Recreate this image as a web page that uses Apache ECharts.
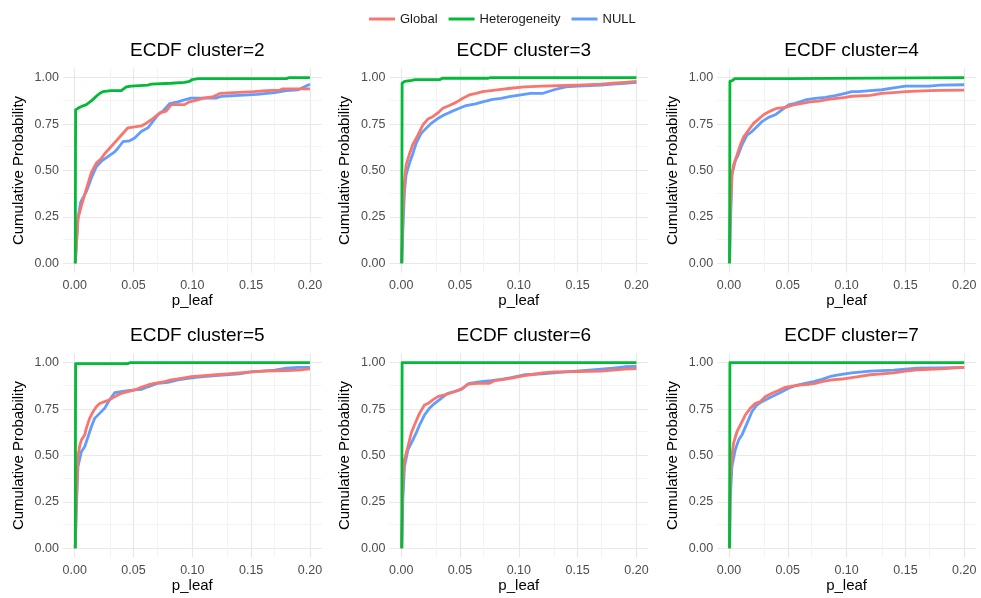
<!DOCTYPE html>
<html><head><meta charset="utf-8">
<script src="https://cdn.jsdelivr.net/npm/echarts@6/dist/echarts.min.js"></script>
<style>html,body{margin:0;padding:0;background:#fff}#c{width:981px;height:598px}</style>
</head><body><div id="c"></div>
<script>
// ---- data (p_leaf, cumulative probability) ----
const c2_global = [[0.0005,0],[0.0028,0.24],[0.0057,0.31],[0.0099,0.40],[0.0142,0.49],[0.0184,0.54],[0.0227,0.565],[0.0255,0.59],[0.0297,0.62],[0.034,0.65],[0.0396,0.69],[0.0453,0.73],[0.051,0.735],[0.0566,0.74],[0.0609,0.755],[0.0665,0.78],[0.0722,0.81],[0.0778,0.82],[0.082,0.855],[0.0934,0.855],[0.0976,0.87],[0.1047,0.88],[0.109,0.89],[0.118,0.898],[0.1235,0.915],[0.135,0.92],[0.152,0.925],[0.163,0.93],[0.1745,0.933],[0.177,0.94],[0.2,0.94]];
const c2_het = [[0.0005,0],[0.0008,0.826],[0.0028,0.835],[0.0057,0.845],[0.0099,0.855],[0.0142,0.875],[0.0184,0.9],[0.0212,0.915],[0.024,0.925],[0.0311,0.93],[0.0396,0.93],[0.0439,0.95],[0.0481,0.955],[0.0623,0.96],[0.0651,0.965],[0.082,0.97],[0.0934,0.975],[0.0976,0.98],[0.1,0.99],[0.105,0.995],[0.18,0.995],[0.182,1.0],[0.2,1.0]];
const c2_null = [[0.0005,0],[0.0028,0.24],[0.0051,0.33],[0.0099,0.386],[0.0142,0.46],[0.0184,0.52],[0.0227,0.55],[0.0283,0.575],[0.034,0.6],[0.0368,0.62],[0.041,0.655],[0.0467,0.66],[0.051,0.675],[0.0566,0.71],[0.0623,0.73],[0.0665,0.765],[0.0708,0.8],[0.075,0.82],[0.0807,0.86],[0.0877,0.87],[0.0934,0.88],[0.099,0.89],[0.12,0.89],[0.125,0.9],[0.14,0.905],[0.155,0.91],[0.17,0.92],[0.18,0.93],[0.19,0.935],[0.195,0.95],[0.2,0.965]];

const c3_global = [[0.0005,0],[0.0014,0.26],[0.0028,0.44],[0.0042,0.53],[0.0071,0.59],[0.0099,0.64],[0.0142,0.69],[0.0184,0.745],[0.0227,0.777],[0.0269,0.79],[0.0311,0.81],[0.0354,0.835],[0.041,0.85],[0.0467,0.867],[0.0524,0.889],[0.058,0.907],[0.0637,0.915],[0.0693,0.925],[0.0764,0.93],[0.0849,0.937],[0.0934,0.943],[0.1047,0.95],[0.12,0.955],[0.14,0.958],[0.15,0.96],[0.17,0.965],[0.18,0.97],[0.19,0.975],[0.2,0.98]];
const c3_het = [[0.0005,0],[0.0008,0.97],[0.003,0.98],[0.009,0.985],[0.012,0.99],[0.033,0.99],[0.035,0.997],[0.074,0.997],[0.076,1.0],[0.2,1.0]];
const c3_null = [[0.0005,0],[0.0014,0.17],[0.0028,0.386],[0.0042,0.476],[0.0071,0.54],[0.0099,0.59],[0.0127,0.646],[0.017,0.70],[0.0212,0.727],[0.0255,0.754],[0.0311,0.78],[0.0368,0.80],[0.0425,0.817],[0.0495,0.835],[0.0552,0.85],[0.0623,0.858],[0.0693,0.87],[0.0778,0.883],[0.0849,0.889],[0.092,0.898],[0.099,0.905],[0.11,0.915],[0.12,0.915],[0.13,0.935],[0.14,0.95],[0.15,0.955],[0.16,0.958],[0.17,0.96],[0.18,0.965],[0.19,0.97],[0.2,0.975]];

const c4_global = [[0.0005,0],[0.0011,0.26],[0.0025,0.476],[0.0039,0.53],[0.0068,0.583],[0.0096,0.637],[0.0124,0.68],[0.0167,0.718],[0.0209,0.754],[0.0252,0.777],[0.0294,0.80],[0.0351,0.82],[0.0407,0.835],[0.0478,0.84],[0.0549,0.853],[0.062,0.862],[0.069,0.87],[0.0761,0.874],[0.0846,0.883],[0.0917,0.889],[0.0988,0.894],[0.1044,0.90],[0.12,0.905],[0.13,0.915],[0.14,0.92],[0.15,0.925],[0.17,0.93],[0.18,0.932],[0.2,0.933]];
const c4_het = [[0.0005,0],[0.0008,0.98],[0.003,0.985],[0.005,0.995],[0.05,0.995],[0.051,1.0],[0.2,1.0]];
const c4_null = [[0.0005,0],[0.0011,0.17],[0.0025,0.476],[0.0053,0.55],[0.0082,0.59],[0.011,0.637],[0.0153,0.69],[0.0195,0.71],[0.0237,0.736],[0.028,0.763],[0.0337,0.786],[0.0393,0.80],[0.045,0.826],[0.0507,0.853],[0.0563,0.862],[0.0648,0.88],[0.0733,0.889],[0.0818,0.894],[0.0903,0.903],[0.0988,0.916],[0.1044,0.925],[0.11,0.925],[0.12,0.93],[0.13,0.935],[0.14,0.945],[0.15,0.955],[0.17,0.955],[0.18,0.96],[0.2,0.962]];

const c5_global = [[0.0005,0],[0.0014,0.26],[0.0028,0.494],[0.0042,0.55],[0.0057,0.583],[0.0085,0.61],[0.0099,0.646],[0.0127,0.70],[0.0156,0.736],[0.0184,0.763],[0.0212,0.78],[0.0255,0.79],[0.0297,0.80],[0.034,0.817],[0.0396,0.835],[0.0453,0.844],[0.051,0.853],[0.0566,0.867],[0.0623,0.88],[0.0679,0.889],[0.0764,0.898],[0.082,0.907],[0.0906,0.916],[0.099,0.925],[0.11,0.93],[0.12,0.935],[0.13,0.94],[0.14,0.945],[0.15,0.95],[0.16,0.955],[0.18,0.958],[0.19,0.96],[0.2,0.967]];
const c5_het = [[0.0005,0],[0.0008,0.995],[0.045,0.995],[0.047,1.0],[0.2,1.0]];
const c5_null = [[0.0005,0],[0.0014,0.206],[0.0028,0.44],[0.0057,0.52],[0.0085,0.547],[0.0113,0.60],[0.0142,0.655],[0.017,0.70],[0.0212,0.727],[0.0255,0.754],[0.0297,0.80],[0.034,0.838],[0.0396,0.844],[0.0453,0.85],[0.051,0.853],[0.0566,0.856],[0.0623,0.87],[0.0708,0.889],[0.0792,0.894],[0.0877,0.907],[0.0962,0.916],[0.1047,0.922],[0.12,0.93],[0.14,0.94],[0.15,0.95],[0.16,0.955],[0.17,0.96],[0.18,0.97],[0.19,0.975],[0.2,0.975]];

const c6_global = [[0.0005,0],[0.0014,0.35],[0.0028,0.476],[0.0057,0.547],[0.0085,0.62],[0.0113,0.664],[0.0156,0.727],[0.0198,0.772],[0.0227,0.78],[0.0269,0.80],[0.0311,0.817],[0.0368,0.826],[0.0425,0.838],[0.0481,0.85],[0.0524,0.862],[0.0566,0.885],[0.0651,0.889],[0.075,0.889],[0.0792,0.903],[0.0877,0.91],[0.0962,0.92],[0.1047,0.93],[0.11,0.935],[0.12,0.945],[0.13,0.95],[0.15,0.952],[0.17,0.955],[0.18,0.96],[0.19,0.965],[0.2,0.968]];
const c6_het = [[0.0005,0],[0.0008,1.0],[0.2,1.0]];
const c6_null = [[0.0005,0],[0.0014,0.26],[0.0028,0.44],[0.0057,0.53],[0.0099,0.583],[0.0127,0.62],[0.0156,0.664],[0.0198,0.718],[0.024,0.754],[0.0283,0.78],[0.034,0.808],[0.0396,0.835],[0.0453,0.844],[0.051,0.856],[0.058,0.889],[0.0679,0.898],[0.0764,0.903],[0.0849,0.91],[0.0934,0.92],[0.1047,0.935],[0.12,0.94],[0.14,0.95],[0.16,0.96],[0.18,0.97],[0.19,0.978],[0.2,0.98]];

const c7_global = [[0.0005,0],[0.0011,0.35],[0.0025,0.494],[0.0039,0.566],[0.0068,0.628],[0.0096,0.664],[0.0139,0.718],[0.0181,0.754],[0.0223,0.78],[0.0266,0.79],[0.0308,0.817],[0.0365,0.835],[0.0421,0.85],[0.0478,0.867],[0.0535,0.874],[0.062,0.88],[0.0676,0.883],[0.0733,0.889],[0.079,0.898],[0.0874,0.907],[0.0959,0.912],[0.1044,0.92],[0.11,0.925],[0.12,0.935],[0.13,0.94],[0.14,0.945],[0.15,0.955],[0.16,0.962],[0.18,0.967],[0.2,0.975]];
const c7_het = [[0.0005,0],[0.0008,1.0],[0.2,1.0]];
const c7_null = [[0.0005,0],[0.0011,0.26],[0.0025,0.44],[0.0053,0.53],[0.0082,0.583],[0.011,0.61],[0.0153,0.673],[0.0195,0.736],[0.0237,0.772],[0.028,0.79],[0.0337,0.808],[0.0393,0.826],[0.045,0.844],[0.0507,0.862],[0.0563,0.876],[0.0648,0.889],[0.0719,0.898],[0.079,0.91],[0.0874,0.928],[0.0931,0.934],[0.1044,0.945],[0.12,0.955],[0.14,0.96],[0.16,0.97],[0.18,0.972],[0.2,0.975]];

const clusters = [2, 3, 4, 5, 6, 7];
const seriesNames = ['Global', 'Heterogeneity', 'NULL'];
const xTicks = [0, 0.05, 0.1, 0.15, 0.2];
const xMinor = [0.025, 0.075, 0.125, 0.175];
const yTicks = [0, 0.25, 0.5, 0.75, 1];
const yMinor = [0.125, 0.375, 0.625, 0.875];

const panelData = {
  2: { Global: c2_global, Heterogeneity: c2_het, NULL: c2_null },
  3: { Global: c3_global, Heterogeneity: c3_het, NULL: c3_null },
  4: { Global: c4_global, Heterogeneity: c4_het, NULL: c4_null },
  5: { Global: c5_global, Heterogeneity: c5_het, NULL: c5_null },
  6: { Global: c6_global, Heterogeneity: c6_het, NULL: c6_null },
  7: { Global: c7_global, Heterogeneity: c7_het, NULL: c7_null }
};

// ---- styling / layout ----
const colors = { Global: '#F8766D', Heterogeneity: '#00BA38', NULL: '#619CFF' };
const FONT = '"Liberation Sans", Arial, Helvetica, sans-serif';
const lefts = [62.9, 389.4, 717.2];
const tops = [68.4, 353.4];
const titleTops = [36, 321];
const PW = 258.8, PH = 204.2;
const GRID = '#E8E8E8', GRID_MINOR = '#F3F3F3';

const grids = [], xAxes = [], yAxes = [], series = [], titles = [];
clusters.forEach((cl, i) => {
  const col = i % 3, row = Math.floor(i / 3);
  grids.push({ left: lefts[col], top: tops[row], width: PW, height: PH, containLabel: false });
  titles.push({
    text: 'ECDF cluster=' + cl, left: lefts[col] + PW / 2, top: titleTops[row], textAlign: 'center',
    textStyle: { fontFamily: FONT, fontSize: 19, fontWeight: 'normal', color: '#000' }
  });
  xAxes.push({
    gridIndex: i, type: 'value', min: -0.01, max: 0.21, position: 'bottom',
    axisLine: { show: false }, axisTick: { show: false, customValues: xTicks },
    axisLabel: { customValues: xTicks, formatter: v => v.toFixed(2), color: '#4D4D4D', fontSize: 12.5, fontFamily: FONT, margin: 6 },
    splitLine: { show: true, lineStyle: { color: GRID, width: 1.2 } },
    name: 'p_leaf', nameLocation: 'middle', nameGap: 21,
    nameTextStyle: { fontFamily: FONT, fontSize: 15, color: '#000' }
  });
  yAxes.push({
    gridIndex: i, type: 'value', min: -0.05, max: 1.05, position: 'left',
    axisLine: { show: false }, axisTick: { show: false, customValues: yTicks },
    axisLabel: { customValues: yTicks, formatter: v => v.toFixed(2), color: '#4D4D4D', fontSize: 12.5, fontFamily: FONT, margin: 4 },
    splitLine: { show: true, lineStyle: { color: GRID, width: 1.2 } },
    name: 'Cumulative Probability', nameLocation: 'middle', nameGap: 37, nameRotate: 90,
    nameTextStyle: { fontFamily: FONT, fontSize: 15, color: '#000' }
  });
  // minor grid lines, placed through the panel's own axes, kept under the curves
  series.push({
    name: 'minor-grid-' + cl, type: 'line', xAxisIndex: i, yAxisIndex: i,
    data: [], symbol: 'none', silent: true, animation: false, z: 0,
    markLine: {
      silent: true, animation: false, z: 0, symbol: ['none', 'none'], label: { show: false },
      lineStyle: { color: GRID_MINOR, width: 1, type: 'solid' },
      emphasis: { disabled: true },
      data: xMinor.map(v => ({ xAxis: v })).concat(yMinor.map(v => ({ yAxis: v })))
    }
  });
  ['NULL', 'Global', 'Heterogeneity'].forEach(name => {
    series.push({
      name, type: 'line', xAxisIndex: i, yAxisIndex: i,
      data: panelData[cl][name], showSymbol: false, symbol: 'none',
      lineStyle: { color: colors[name], width: 2.8, join: 'round' },
      itemStyle: { color: colors[name] },
      animation: false, silent: true, z: 6
    });
  });
});

const chart = echarts.init(document.getElementById('c'), null, { renderer: 'canvas' });
chart.setOption({
  backgroundColor: '#fff',
  animation: false,
  title: titles,
  legend: {
    data: seriesNames, left: 364, top: 7, icon: 'rect', itemWidth: 26, itemHeight: 3, itemGap: 11,
    textStyle: { fontFamily: FONT, fontSize: 13, color: '#1A1A1A', lineHeight: 14 }
  },
  grid: grids, xAxis: xAxes, yAxis: yAxes, series
});
</script></body></html>
